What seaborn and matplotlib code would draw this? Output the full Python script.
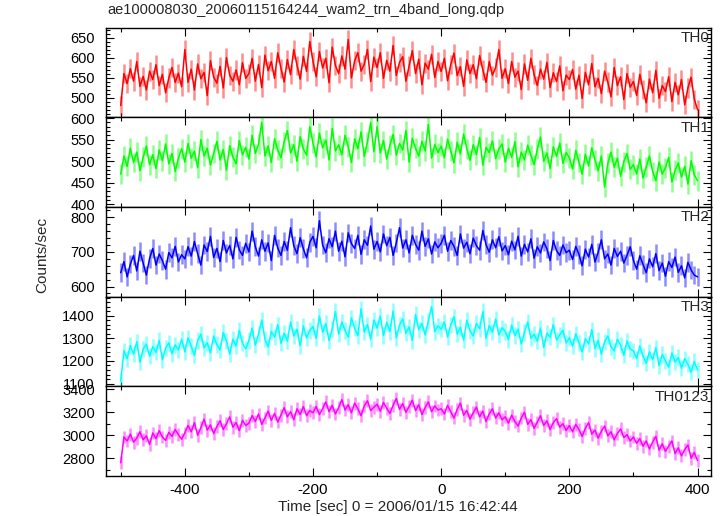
import numpy as np
import pandas as pd
import matplotlib
matplotlib.use("Agg")
import matplotlib.pyplot as plt
from matplotlib.ticker import MultipleLocator
import seaborn as sns

# --- DATOS (leídos a ojo, paso de 5 s, de -500 a 400 s) ---
time_start, time_stop, time_step = -500, 400, 5

th0 = [480, 560, 535, 572, 541, 590, 528, 553, 519, 566, 545, 582, 530, 558, 512, 549, 575, 538, 561, 527,
       620, 538, 571, 519, 584, 547, 563, 505, 592, 551, 536, 578, 524, 600, 556, 541, 569, 532, 587, 548,
       560, 598, 541, 583, 525, 606, 567, 590, 548, 612, 573, 539, 595, 557, 620, 581, 546, 603, 565, 640,
       590, 552, 615, 574, 598, 537, 626, 580, 560, 604, 571, 645, 549, 592, 612, 566, 583, 620, 540, 601,
       575, 612, 548, 593, 566, 630, 555, 588, 602, 541, 579, 617, 560, 596, 532, 586, 571, 608, 550, 590,
       565, 598, 542, 583, 611, 555, 577, 528, 594, 560, 582, 547, 605, 569, 538, 590, 556, 575, 620, 548,
       572, 535, 590, 551, 566, 520, 584, 543, 598, 557, 530, 571, 546, 588, 525, 562, 540, 579, 517, 556,
       545, 570, 521, 556, 498, 563, 532, 585, 527, 548, 510, 566, 539, 502, 575, 530, 552, 495, 560, 526,
       540, 505, 558, 520, 487, 546, 512, 568, 498, 530, 515, 552, 490, 538, 507, 545, 482, 524, 551, 496,
       470]

th1 = [470, 512, 488, 530, 497, 521, 478, 509, 535, 492, 515, 483, 526, 501, 540, 494, 518, 476, 507, 529,
       498, 541, 507, 523, 485, 550, 512, 530, 491, 518, 546, 503, 527, 479, 536, 510, 494, 548, 515, 532,
       505, 560, 518, 540, 590, 512, 535, 497, 552, 526, 508, 545, 571, 519, 538, 500, 557, 528, 514, 580,
       542, 510, 565, 531, 549, 503, 576, 524, 538, 515, 560, 533, 497, 552, 529, 568, 511, 545, 590, 522,
       580, 519, 548, 505, 537, 562, 514, 541, 526, 571, 498, 553, 530, 512, 546, 524, 585, 507, 539, 520,
       535, 508, 551, 523, 496, 544, 517, 563, 529, 502, 538, 515, 555, 491, 532, 520, 547, 506, 528, 540,
       498, 530, 509, 545, 487, 521, 503, 537, 514, 492, 528, 556, 500, 519, 483, 533, 511, 542, 495, 520,
       508, 482, 525, 497, 470, 516, 489, 531, 503, 478, 512, 440, 495, 521, 486, 507, 465, 499, 518, 481,
       492, 470, 505, 461, 487, 512, 476, 455, 498, 470, 485, 509, 452, 479, 496, 463, 488, 447, 501, 468,
       455]

th2 = [640, 672, 628, 665, 690, 645, 702, 668, 633, 681, 710, 662, 694, 675, 650, 698, 683, 716, 671, 692,
       680, 715, 688, 730, 695, 662, 720, 701, 745, 684, 710, 672, 733, 697, 719, 680, 742, 706, 690, 725,
       700, 760, 715, 688, 735, 702, 726, 675, 748, 711, 690, 730, 705, 770, 718, 695, 741, 709, 683, 728,
       745, 712, 790, 720, 698, 738, 715, 760, 702, 731, 686, 755, 724, 710, 748, 693, 735, 719, 775, 708,
       730, 700, 752, 718, 742, 690, 726, 770, 711, 735, 697, 748, 722, 705, 760, 716, 738, 694, 729, 712,
       725, 748, 702, 733, 716, 690, 752, 711, 728, 695, 740, 718, 705, 762, 721, 699, 735, 712, 744, 703,
       718, 692, 731, 706, 745, 688, 722, 700, 738, 682, 715, 697, 729, 709, 675, 733, 704, 690, 720, 698,
       705, 678, 716, 693, 660, 708, 685, 722, 671, 699, 735, 680, 694, 662, 710, 687, 702, 668, 690, 715,
       676, 650, 689, 664, 640, 680, 657, 695, 646, 668, 630, 672, 655, 685, 641, 660, 625, 670, 648, 633,
       628]

th3 = [1110, 1245, 1210, 1268, 1230, 1285, 1195, 1252, 1274, 1221, 1263, 1238, 1290, 1205, 1256, 1280, 1232, 1271, 1248, 1296,
       1240, 1302, 1265, 1225, 1290, 1318, 1258, 1280, 1236, 1310, 1272, 1249, 1325, 1288, 1230, 1296, 1266, 1335, 1278, 1254,
       1290, 1345, 1270, 1318, 1380, 1296, 1262, 1330, 1305, 1360, 1278, 1322, 1288, 1372, 1310, 1340, 1268, 1355, 1301, 1335,
       1352, 1300, 1398, 1326, 1365, 1290, 1340, 1418, 1318, 1372, 1335, 1305, 1390, 1344, 1312, 1430, 1328, 1360, 1296, 1380,
       1345, 1398, 1312, 1370, 1330, 1420, 1302, 1358, 1385, 1322, 1350, 1290, 1405, 1338, 1366, 1315, 1376, 1440, 1330, 1355,
       1340, 1372, 1305, 1360, 1395, 1318, 1348, 1292, 1380, 1333, 1310, 1365, 1342, 1418, 1300, 1356, 1327, 1385, 1315, 1346,
       1330, 1295, 1358, 1312, 1340, 1275, 1326, 1372, 1300, 1318, 1288, 1345, 1260, 1322, 1305, 1360, 1292, 1315, 1336, 1280,
       1302, 1265, 1320, 1280, 1240, 1298, 1275, 1338, 1255, 1290, 1230, 1285, 1310, 1262, 1245, 1296, 1270, 1225, 1288, 1252,
       1245, 1210, 1265, 1222, 1190, 1240, 1205, 1258, 1180, 1228, 1200, 1172, 1235, 1195, 1215, 1168, 1210, 1185, 1150, 1198,
       1160]

th0123 = [2760, 2985, 2950, 3010, 2940, 2975, 3030, 2960, 2995, 2920, 3020, 2970, 3040, 2985, 2955, 3025, 2990, 3050, 3005, 2965,
          3020, 3085, 3030, 3110, 3000, 3065, 3140, 3045, 3090, 3015, 3075, 3125, 3050, 3100, 3160, 3070, 3110, 3040, 3130, 3085,
          3105, 3170, 3120, 3185, 3095, 3150, 3210, 3130, 3190, 3115, 3175, 3240, 3160, 3205, 3135, 3230, 3180, 3250, 3170, 3215,
          3195, 3250, 3180, 3230, 3290, 3205, 3260, 3185, 3240, 3310, 3220, 3265, 3195, 3280, 3230, 3170, 3255, 3300, 3215, 3245,
          3270, 3210, 3285, 3235, 3190, 3260, 3320, 3225, 3275, 3200, 3250, 3305, 3215, 3265, 3180, 3240, 3290, 3205, 3255, 3220,
          3230, 3185, 3260, 3205, 3150, 3225, 3280, 3175, 3215, 3140, 3195, 3245, 3160, 3210, 3120, 3185, 3230, 3150, 3195, 3135,
          3160, 3105, 3175, 3120, 3080, 3150, 3200, 3095, 3135, 3060, 3115, 3170, 3085, 3125, 3050, 3110, 3145, 3070, 3100, 3040,
          3085, 3030, 3095, 3050, 2990, 3060, 3110, 3010, 3045, 2975, 3035, 3080, 2995, 3030, 2960, 3015, 3055, 2980, 3005, 2950,
          2985, 2930, 2970, 2905, 2950, 2880, 2940, 2990, 2870, 2925, 2860, 2905, 2950, 2840, 2890, 2820, 2875, 2915, 2800, 2850,
          2780]

bands = ["TH0", "TH1", "TH2", "TH3", "TH0123"]
band_errors = [24, 23, 27, 36, 56]   # barra de error aproximada (cuentas/s)
y_limits = [(451, 675), (394, 602), (571, 830), (1088, 1484), (2645, 3426)]
y_major = [50, 50, 100, 100, 200]
y_minor = [10, 10, 20, 20, 100]
colors = ["#ff0000", "#00ff00", "#0000ff", "#00ffff", "#ff00ff"]

title = "ae100008030_20060115164244_wam2_trn_4band_long.qdp"
x_label = "Time [sec] 0 = 2006/01/15 16:42:44"
y_label = "Counts/sec"

# --- TABLA LARGA ---
time = np.arange(time_start, time_stop + 1, time_step)
df = pd.concat([
    pd.DataFrame({"time": time, "rate": vals, "band": name})
    for name, vals in zip(bands, [th0, th1, th2, th3, th0123])
], ignore_index=True)

# --- FIGURA ---
sns.set_style("ticks")
plt.rcParams["font.family"] = ["Liberation Sans", "DejaVu Sans"]
plt.rcParams["font.size"] = 11
plt.rcParams["axes.unicode_minus"] = False

fig, axes = plt.subplots(5, 1, sharex=True, figsize=(7.24, 5.16), dpi=100)
fig.subplots_adjust(left=0.1464, right=0.982, top=0.9467, bottom=0.0775, hspace=0)

for ax, name, err, ylim, maj, mnr, col in zip(axes, bands, band_errors, y_limits, y_major, y_minor, colors):
    sub = df[df["band"] == name]
    ax.errorbar(sub["time"], sub["rate"], yerr=err, fmt="none",
                ecolor=col, elinewidth=1.8, alpha=0.45, capsize=0)
    sns.lineplot(data=sub, x="time", y="rate", ax=ax, color=col,
                 linewidth=1.1, estimator=None, legend=False)
    ax.set_ylim(*ylim)
    ax.set_xlim(-523, 421)
    ax.yaxis.set_major_locator(MultipleLocator(maj))
    ax.yaxis.set_minor_locator(MultipleLocator(mnr))
    ax.xaxis.set_major_locator(MultipleLocator(200))
    ax.xaxis.set_minor_locator(MultipleLocator(100))
    ax.tick_params(which="both", direction="in", top=True, right=True,
                   colors="black", labelsize=10.5, width=0.8)
    ax.tick_params(which="major", length=6)
    ax.tick_params(which="minor", length=3)
    ax.tick_params(axis="y", pad=8)
    ax.tick_params(axis="x", pad=5, labelsize=11)
    ax.set_ylabel("")
    ax.set_xlabel("")
    for s in ax.spines.values():
        s.set_linewidth(1.0)
        s.set_color("black")
    ax.text(0.997, 0.96, name, transform=ax.transAxes, ha="right", va="top", fontsize=11)

fig.text(398 / 724, 1 - 507 / 516, x_label, ha="center", va="center", fontsize=11)
fig.text(0.058, 0.506, y_label, rotation=90, ha="center", va="center", fontsize=11)
fig.text(0.148, 0.968, title, ha="left", va="bottom", fontsize=10.5)

plt.savefig("out.png", dpi=100)
